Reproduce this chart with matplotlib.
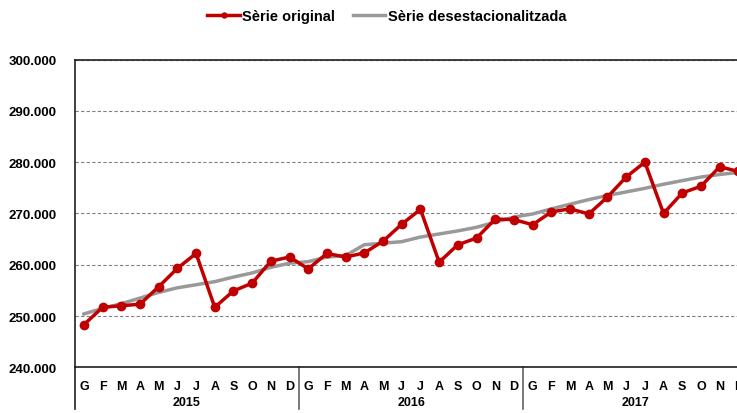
import matplotlib
matplotlib.use('Agg')
from matplotlib import pyplot as plt
import matplotlib.transforms as mtransforms

plt.rcParams['font.family'] = ['Liberation Sans', 'DejaVu Sans']

years = ['2015', '2016', '2017']
months = ['G', 'F', 'M', 'A', 'M', 'J', 'J', 'A', 'S', 'O', 'N', 'D']

original = [248300, 251700, 252000, 252300, 255700, 259300, 262200, 251700, 254900, 256400, 260700, 261500,
            259200, 262200, 261500, 262300, 264600, 267900, 270800, 260500, 263900, 265200, 268900, 268800,
            267800, 270300, 270900, 269900, 273200, 277100, 280000, 270000, 274000, 275300, 279100, 278200]

deseason = [250400, 251500, 252400, 253500, 254600, 255500, 256100, 256700, 257600, 258400, 259500, 260300,
            260600, 261500, 261800, 263900, 264200, 264500, 265400, 266000, 266600, 267300, 268300, 269300,
            269900, 270900, 271800, 272700, 273500, 274200, 274900, 275700, 276400, 277100, 277600, 278000]

n = len(original)
xs = [i + 0.5 for i in range(n)]

fig = plt.figure(figsize=(7.37, 4.14), dpi=100)
ax = fig.add_axes([74.5 / 737, 1 - 368.3 / 414, 673.2 / 737, (368.3 - 60.6) / 414])

red = '#C00000'
grey = '#999999'

l1, = ax.plot(xs, original, color=red, lw=2.5, marker='o', ms=6, zorder=3, label='Sèrie original')
l2, = ax.plot(xs, deseason, color=grey, lw=2.5, zorder=2, label='Sèrie desestacionalitzada')

ax.set_xlim(0, n)
ax.set_ylim(240000, 300000)
ax.set_yticks(range(240000, 300001, 10000))
ax.set_yticklabels([f'{v // 1000}.000' for v in range(240000, 300001, 10000)],
                   fontsize=9.5, fontweight='bold')
ax.tick_params(axis='y', length=0, pad=13)
ax.yaxis.grid(True, linestyle=(0, (3, 2)), color='#808080', lw=0.8)
ax.set_axisbelow(True)

ax.set_xticks(xs)
ax.set_xticklabels(months * len(years), fontsize=9, fontweight='bold')
ax.tick_params(axis='x', length=0, pad=9)

for side in ['left', 'top', 'bottom']:
    ax.spines[side].set_color('#202020')
    ax.spines[side].set_linewidth(1.2)
ax.spines['right'].set_visible(False)

trans = mtransforms.blended_transform_factory(ax.transData, ax.transAxes)
depth = -41.5 / 307.7
ax.plot([0, 0], [0, depth], color='#202020', lw=1.2, transform=trans, clip_on=False)
for k in range(1, len(years)):
    ax.plot([12 * k, 12 * k], [0, depth], color='#606060', lw=1.2, transform=trans, clip_on=False)
for k, yr in enumerate(years):
    ax.text(12 * k + 6, -34.5 / 307.7, yr, transform=trans, ha='center', va='center',
            fontsize=9, fontweight='bold')

fig.legend(handles=[l1, l2], loc='center', bbox_to_anchor=(0.525, 1 - 17 / 414), ncol=2,
           frameon=False, prop={'weight': 'bold', 'size': 10.5}, handlelength=2.2,
           handletextpad=0.2, columnspacing=1.2, markerscale=0.6)

fig.savefig('out.png', dpi=100)
